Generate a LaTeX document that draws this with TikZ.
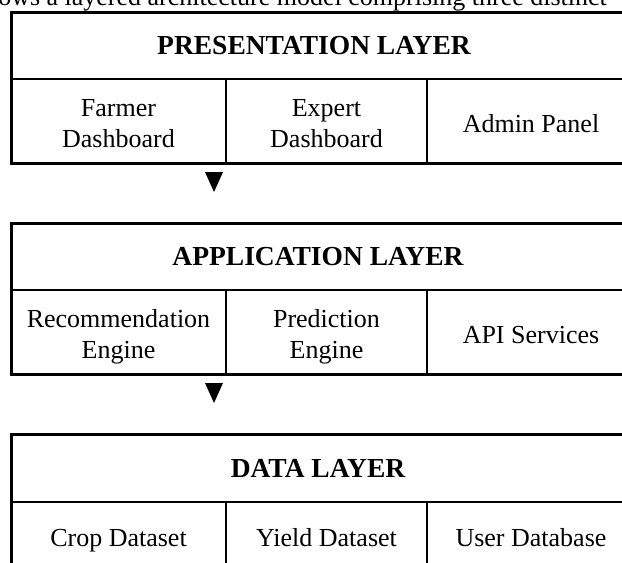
\documentclass[tikz,border=0pt]{standalone}
\usepackage{fontspec}
\setmainfont{Liberation Serif}
\begin{document}
\begin{tikzpicture}[x=1pt,y=-1pt,line width=2.5pt,
  layertitle/.style={font=\fontsize{27.5}{31}\selectfont\bfseries,inner sep=0pt},
  cell/.style={font=\fontsize{26}{31}\selectfont,align=center,inner sep=0pt},
  tri/.style={fill=black,draw=none}]
\useasboundingbox (0,0) rectangle (622,563);
\clip (0,0) rectangle (622,563);
% clipped caption line above
\node[anchor=base west,font=\fontsize{26}{30}\selectfont,inner sep=0pt] (cap) at (-3,5) {ows a layered architecture model comprising three distinct};
% ---- Presentation layer ----
\draw (11.5,12.5) rectangle (640,163.5);
\draw (11.5,79) -- (640,79);
\draw (226,79) -- (226,163.5);
\draw (427,79) -- (427,163.5);
\node[layertitle] (pt) at (314,46) {PRESENTATION LAYER};
\node[cell] (p1) at (118.5,126) {\strut Farmer\\\strut Dashboard};
\node[cell] (p2) at (326.5,126) {\strut Expert\\\strut Dashboard};
\node[cell] (p3) at (531,126) {\strut Admin Panel};
\fill[tri] (205,172) -- (223,172) -- (214,192) -- cycle;
% ---- Application layer ----
\draw (11.5,223.5) rectangle (640,374.5);
\draw (11.5,290) -- (640,290);
\draw (226,290) -- (226,374.5);
\draw (427,290) -- (427,374.5);
\node[layertitle] (at) at (318,257) {APPLICATION LAYER};
\node[cell] (a1) at (118.5,337) {\strut Recommendation\\\strut Engine};
\node[cell] (a2) at (326.5,337) {\strut Prediction\\\strut Engine};
\node[cell] (a3) at (531,337) {\strut API Services};
\fill[tri] (205,383) -- (223,383) -- (214,403) -- cycle;
% ---- Data layer ----
\draw (11.5,434.5) rectangle (640,590);
\draw (11.5,502) -- (640,502);
\draw (226,502) -- (226,590);
\draw (427,502) -- (427,590);
\node[layertitle] (dt) at (318,468) {DATA LAYER};
\node[cell] (d1) at (118.5,540) {\strut Crop Dataset};
\node[cell] (d2) at (326.5,540) {\strut Yield Dataset};
\node[cell] (d3) at (531,540) {\strut User Database};
\end{tikzpicture}
\end{document}
